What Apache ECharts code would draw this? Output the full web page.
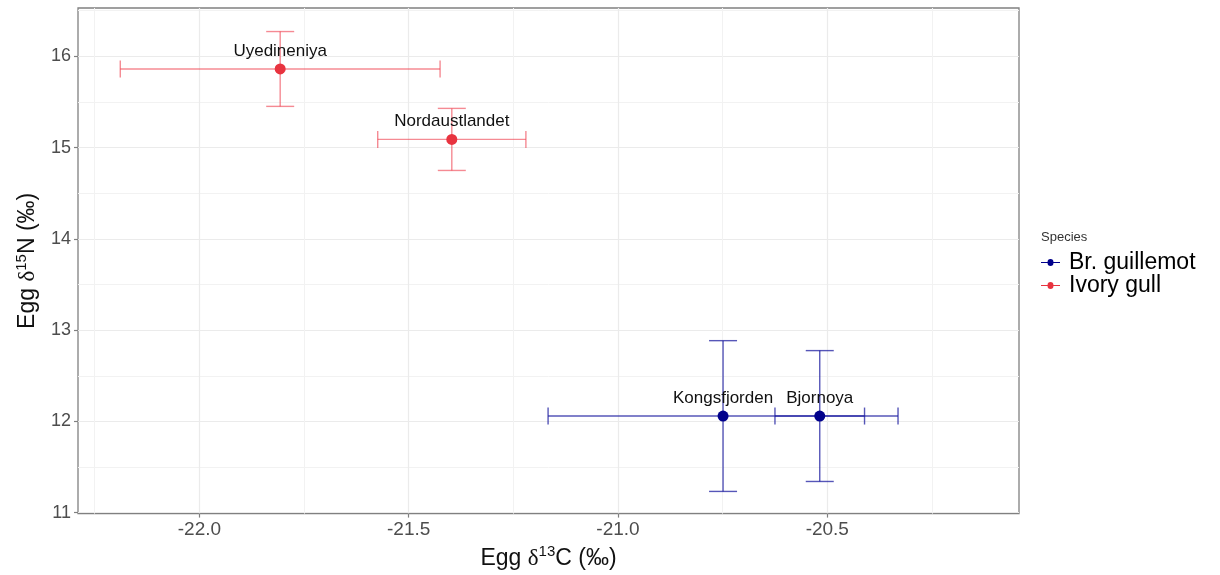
<!DOCTYPE html>
<html>
<head>
<meta charset="utf-8">
<script src="https://cdn.jsdelivr.net/npm/echarts@6/dist/echarts.min.js"></script>
<style>
  html, body { margin: 0; padding: 0; background: #fff; }
  #main { width: 1220px; height: 575px; }
</style>
</head>
<body>
<div id="main"></div>
<script>
// data
var sites = ['Uyedineniya', 'Nordaustlandet', 'Kongsfjorden', 'Bjornoya'];
var species = ['Ivory gull', 'Ivory gull', 'Br. guillemot', 'Br. guillemot'];
var d13C = [-21.807, -21.397, -20.749, -20.518];
var d15N = [15.862, 15.09, 12.059, 12.059];
var d13C_err = [0.382, 0.177, 0.418, 0.107];
var d15N_err = [0.41, 0.34, 0.826, 0.717];
var xTicks = [-22.0, -21.5, -21.0, -20.5];
var yTicks = [11, 12, 13, 14, 15, 16];
var speciesNames = ['Br. guillemot', 'Ivory gull'];

var pointColors = { 'Br. guillemot': '#00008b', 'Ivory gull': '#e8333f' };
var barColors = { 'Br. guillemot': 'rgba(30,30,160,0.75)', 'Ivory gull': 'rgba(238,60,75,0.6)' };
var font = 'Liberation Sans, Arial, sans-serif';

function pointsFor (sp) {
   var out = [];
   for (var i = 0; i < sites.length; i++) {
      if (species[i] === sp) out.push({ name: sites[i], value: [d13C[i], d15N[i]] });
   }
   return out;
}
function barsFor (sp) {
   var out = [];
   for (var i = 0; i < sites.length; i++) {
      if (species[i] === sp) out.push([d13C[i], d15N[i], d13C_err[i], d15N_err[i]]);
   }
   return out;
}

// horizontal + vertical error bars with caps
function renderErr (params, api) {
   var x = api.value(0), y = api.value(1), ex = api.value(2), ey = api.value(3);
   var l = api.coord([x - ex, y]), r = api.coord([x + ex, y]);
   var t = api.coord([x, y + ey]), b = api.coord([x, y - ey]);
   var hw = 14, hh = 8.5;
   var st = { stroke: api.visual('color'), lineWidth: 1.4 };
   function seg (x1, y1, x2, y2) {
      return { type: 'line', shape: { x1: x1, y1: y1, x2: x2, y2: y2 }, style: st };
   }
   return {
      type: 'group',
      children: [
         seg(l[0], l[1], r[0], r[1]),
         seg(l[0], l[1] - hh, l[0], l[1] + hh),
         seg(r[0], r[1] - hh, r[0], r[1] + hh),
         seg(t[0], t[1], b[0], b[1]),
         seg(t[0] - hw, t[1], t[0] + hw, t[1]),
         seg(b[0] - hw, b[1], b[0] + hw, b[1])
      ]
   };
}

var series = [];
speciesNames.forEach(function (sp) {
   series.push({
      name: sp,
      type: 'custom',
      renderItem: renderErr,
      itemStyle: { color: barColors[sp] },
      encode: { x: 0, y: 1 },
      data: barsFor(sp),
      z: 2,
      silent: true
   });
   series.push({
      name: sp,
      type: 'scatter',
      symbol: 'circle',
      symbolSize: 11,
      itemStyle: { color: pointColors[sp], opacity: 1 },
      label: {
         show: true,
         position: 'top',
         distance: 4,
         formatter: '{b}',
         fontFamily: font,
         fontSize: 17,
         color: '#111'
      },
      data: pointsFor(sp),
      z: 3
   });
});

var richName = {
   t: { fontFamily: font, fontSize: 23, color: '#111', lineHeight: 28 },
   d: { fontFamily: 'Liberation Serif, DejaVu Serif, serif', fontSize: 23, color: '#111', lineHeight: 28 },
   s: { fontFamily: font, fontSize: 15, color: '#111', verticalAlign: 'top', lineHeight: 14 }
};

var myChart = echarts.init(document.getElementById('main'));
var option = {
   animation: false,
   backgroundColor: '#fff',
   title: {
      text: 'Species',
      left: 1041,
      top: 231,
      padding: 0,
      textStyle: { fontFamily: font, fontSize: 13, fontWeight: 'normal', color: '#333' }
   },
   legend: {
      data: speciesNames.map(function (sp) {
         return { name: sp, itemStyle: { color: pointColors[sp] } };
      }),
      orient: 'vertical',
      left: 1041,
      top: 251,
      padding: 0,
      itemGap: 0,
      itemWidth: 19,
      itemHeight: 7,
      icon: 'path://M0,3H6.2A2.8,2.8 0 1,1 11.8,3H18V4H11.8A2.8,2.8 0 1,1 6.2,4H0Z',
      textStyle: { fontFamily: font, fontSize: 23, color: '#000', lineHeight: 22, padding: [0, 0, 0, 4] }
   },
   grid: {
      left: 78,
      right: 201,
      top: 8,
      bottom: 59,
      show: true,
      borderColor: '#808080',
      borderWidth: 1.3,
      backgroundColor: '#fff'
   },
   xAxis: {
      type: 'value',
      min: -22.29,
      max: -20.042,
      name: '{t|Egg }{d|δ}{s|13}{t|C (‰)}',
      nameLocation: 'middle',
      nameGap: 29,
      nameTextStyle: { rich: richName },
      axisLine: { show: false },
      axisTick: { show: true, length: 4, lineStyle: { color: '#808080', width: 1.2 }, customValues: xTicks },
      axisLabel: {
         customValues: xTicks,
         margin: 7,
         fontFamily: font,
         fontSize: 19,
         color: '#4d4d4d',
         formatter: function (v) { return v.toFixed(1); }
      },
      splitLine: { show: true, lineStyle: { color: '#ebebeb', width: 1.2 } },
      minorTick: { show: false, splitNumber: 2 },
      minorSplitLine: { show: true, lineStyle: { color: '#f2f2f2', width: 1 } }
   },
   yAxis: {
      type: 'value',
      min: 10.99,
      max: 16.53,
      name: '{t|Egg }{d|δ}{s|15}{t|N (‰)}',
      nameLocation: 'middle',
      nameGap: 36,
      nameTextStyle: { rich: richName },
      axisLine: { show: false },
      axisTick: { show: true, length: 4, lineStyle: { color: '#808080', width: 1.2 }, customValues: yTicks },
      axisLabel: {
         customValues: yTicks,
         margin: 7,
         fontFamily: font,
         fontSize: 18,
         color: '#4d4d4d'
      },
      splitLine: { show: true, lineStyle: { color: '#ebebeb', width: 1.2 } },
      minorTick: { show: false, splitNumber: 2 },
      minorSplitLine: { show: true, lineStyle: { color: '#f2f2f2', width: 1 } }
   },
   series: series
};
myChart.setOption(option);
</script>
</body>
</html>
